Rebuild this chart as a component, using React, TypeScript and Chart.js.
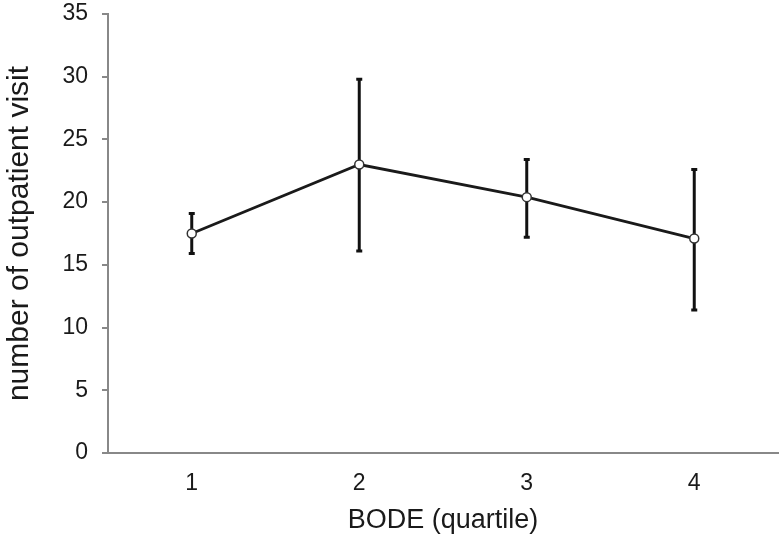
import React, { useEffect, useRef } from "react";
import { Chart, registerables } from "chart.js";

Chart.register(...registerables);

const categories = ["1", "2", "3", "4"];
const means = [17.5, 23.0, 20.4, 17.1];
const upper = [19.1, 29.8, 23.4, 22.6];
const lower = [15.9, 16.1, 17.2, 11.4];

const FONT = "'Liberation Sans', Arial, Helvetica, sans-serif";

const errorBarPlugin = {
  id: "errorBars",
  beforeDatasetsDraw(chart: any) {
    const ctx = chart.ctx;
    const meta = chart.getDatasetMeta(0);
    const ys = chart.scales.y;
    ctx.save();
    ctx.strokeStyle = "#111";
    ctx.lineWidth = 3;
    ctx.lineCap = "butt";
    meta.data.forEach((pt: any, i: number) => {
      const x = pt.x;
      const yHi = ys.getPixelForValue(upper[i]);
      const yLo = ys.getPixelForValue(lower[i]);
      ctx.beginPath();
      ctx.moveTo(x, yHi);
      ctx.lineTo(x, yLo);
      ctx.stroke();
      ctx.beginPath();
      ctx.moveTo(x - 3, yHi);
      ctx.lineTo(x + 3, yHi);
      ctx.moveTo(x - 3, yLo);
      ctx.lineTo(x + 3, yLo);
      ctx.stroke();
    });
    ctx.restore();
  },
};

export default function App() {
  const ref = useRef<HTMLCanvasElement>(null);
  useEffect(() => {
    document.body.style.margin = "0";
    const chart = new Chart(ref.current as HTMLCanvasElement, {
      type: "line",
      data: {
        labels: categories,
        datasets: [
          {
            data: means,
            borderColor: "#1a1a1a",
            borderWidth: 2.8,
            pointRadius: 4.5,
            pointBackgroundColor: "#fff",
            pointBorderColor: "#333",
            pointBorderWidth: 1.5,
            tension: 0,
          },
        ],
      },
      options: {
        animation: false,
        responsive: false,
        maintainAspectRatio: false,
        layout: { padding: { top: 14, right: 5, left: 0, bottom: 0 } },
        plugins: { legend: { display: false }, tooltip: { enabled: false } },
        scales: {
          x: {
            offset: true,
            grid: { display: true, drawOnChartArea: false, drawTicks: false, color: "#888" },
            border: { display: true, color: "#888", width: 2 },
            ticks: { color: "#1a1a1a", font: { family: FONT, size: 23 }, padding: 17 },
            title: {
              display: true,
              text: "BODE (quartile)",
              color: "#1a1a1a",
              font: { family: FONT, size: 27 },
              padding: { top: 8, bottom: 8 },
            },
            afterFit: (s: any) => {
              s.height = 92;
              s.paddingLeft = 0;
              s.paddingRight = 0;
            },
          },
          y: {
            min: 0,
            max: 35,
            ticks: { stepSize: 5, color: "#1a1a1a", font: { family: FONT, size: 23 }, padding: 14 },
            grid: { display: true, drawOnChartArea: false, drawTicks: true, tickLength: 6, color: "#888", lineWidth: 2 },
            border: { display: true, color: "#888", width: 2 },
            title: {
              display: true,
              text: "number of outpatient visit",
              color: "#1a1a1a",
              font: { family: FONT, size: 30 },
              padding: { top: 2, bottom: 2 },
            },
            afterFit: (s: any) => {
              s.width = 108;
              s.paddingTop = 0;
              s.paddingBottom = 0;
            },
          },
        },
      },
      plugins: [errorBarPlugin],
    });
    return () => chart.destroy();
  }, []);
  return (
    <div style={{ width: 784, height: 545 }}>
      <canvas ref={ref} width={784} height={545} style={{ display: "block" }} />
    </div>
  );
}
